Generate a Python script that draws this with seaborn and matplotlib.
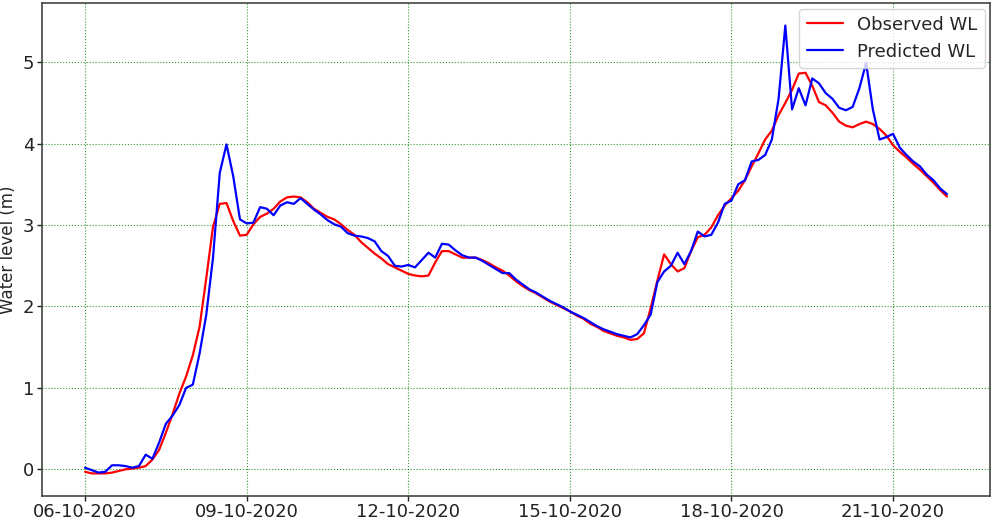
import numpy as np
import pandas as pd
import seaborn as sns
import matplotlib.pyplot as plt
import matplotlib.dates as mdates

# 3-hourly water levels, 06-10-2020 00:00 to 22-10-2020 00:00
start = '2020-10-06 00:00'
step = '3h'

observed_wl = [
    -0.03, -0.05, -0.05, -0.05, -0.04, -0.02, 0.00, 0.01,
    0.02, 0.04, 0.12, 0.24, 0.45, 0.68, 0.93, 1.14,
    1.40, 1.75, 2.35, 2.98, 3.26, 3.27, 3.05, 2.87,
    2.88, 3.01, 3.10, 3.14, 3.20, 3.29, 3.34, 3.35,
    3.34, 3.28, 3.20, 3.15, 3.10, 3.07, 3.01, 2.94,
    2.88, 2.79, 2.72, 2.65, 2.59, 2.52, 2.48, 2.44,
    2.40, 2.38, 2.37, 2.38, 2.54, 2.68, 2.68, 2.64,
    2.60, 2.60, 2.60, 2.57, 2.53, 2.48, 2.44, 2.38,
    2.31, 2.25, 2.20, 2.16, 2.11, 2.06, 2.02, 1.98,
    1.94, 1.89, 1.85, 1.79, 1.75, 1.70, 1.67, 1.64,
    1.62, 1.59, 1.60, 1.67, 1.98, 2.32, 2.64, 2.52,
    2.43, 2.47, 2.68, 2.85, 2.88, 2.97, 3.12, 3.24,
    3.33, 3.42, 3.55, 3.72, 3.88, 4.05, 4.16, 4.35,
    4.50, 4.66, 4.86, 4.87, 4.71, 4.51, 4.47, 4.38,
    4.27, 4.22, 4.20, 4.24, 4.27, 4.24, 4.18, 4.10,
    3.98, 3.90, 3.83, 3.75, 3.68, 3.60, 3.52, 3.43,
    3.35,
]

predicted_wl = [
    0.02, -0.01, -0.04, -0.03, 0.05, 0.05, 0.04, 0.02,
    0.04, 0.18, 0.13, 0.33, 0.56, 0.66, 0.79, 1.00,
    1.04, 1.42, 1.90, 2.60, 3.64, 3.99, 3.60, 3.07,
    3.02, 3.03, 3.22, 3.20, 3.12, 3.24, 3.28, 3.26,
    3.33, 3.26, 3.19, 3.13, 3.06, 3.01, 2.98, 2.90,
    2.87, 2.86, 2.84, 2.80, 2.68, 2.62, 2.50, 2.49,
    2.51, 2.48, 2.57, 2.66, 2.60, 2.77, 2.76, 2.69,
    2.63, 2.60, 2.60, 2.56, 2.51, 2.46, 2.41, 2.41,
    2.33, 2.27, 2.21, 2.17, 2.12, 2.07, 2.03, 1.99,
    1.94, 1.90, 1.86, 1.81, 1.76, 1.72, 1.69, 1.66,
    1.64, 1.62, 1.66, 1.77, 1.90, 2.30, 2.43, 2.50,
    2.66, 2.52, 2.68, 2.92, 2.86, 2.88, 3.03, 3.26,
    3.30, 3.50, 3.55, 3.78, 3.80, 3.86, 4.05, 4.55,
    5.45, 4.42, 4.68, 4.47, 4.80, 4.74, 4.62, 4.55,
    4.44, 4.41, 4.45, 4.68, 4.99, 4.42, 4.05, 4.08,
    4.12, 3.95, 3.86, 3.78, 3.72, 3.62, 3.55, 3.45,
    3.38,
]

dates = pd.date_range(start, periods=len(observed_wl), freq=step)

df = pd.DataFrame({'Date': dates, 'Observed WL': observed_wl, 'Predicted WL': predicted_wl})
df_long = df.melt(id_vars='Date', var_name='Series', value_name='WL')

sns.set_theme(style='ticks')
plt.rcParams['font.family'] = ['DejaVu Sans']

fig, ax = plt.subplots(figsize=(10, 5.23), dpi=100)
sns.lineplot(data=df_long, x='Date', y='WL', hue='Series',
             palette={'Observed WL': 'red', 'Predicted WL': 'blue'},
             linewidth=1.6, ax=ax)

ax.grid(True, color='green', linestyle=':', linewidth=0.8, alpha=0.8)
ax.xaxis.set_major_locator(mdates.DayLocator(bymonthday=range(6, 31, 3)))
ax.xaxis.set_major_formatter(mdates.DateFormatter('%d-%m-%Y'))
ax.set_yticks([0, 1, 2, 3, 4, 5])
ax.tick_params(labelsize=13, colors='#222222', length=3.5, width=1, pad=2)
for s in ax.spines.values():
    s.set_color('#444444')
    s.set_linewidth(1.2)

ax.set_xlabel('')
ax.set_ylabel('Water level (m)', fontsize=12, labelpad=4)
ax.legend(loc='upper right', fontsize=13, title=None, borderaxespad=0.3)

plt.subplots_adjust(left=0.042, right=0.99, top=0.994, bottom=0.052)
plt.savefig('out.png')
